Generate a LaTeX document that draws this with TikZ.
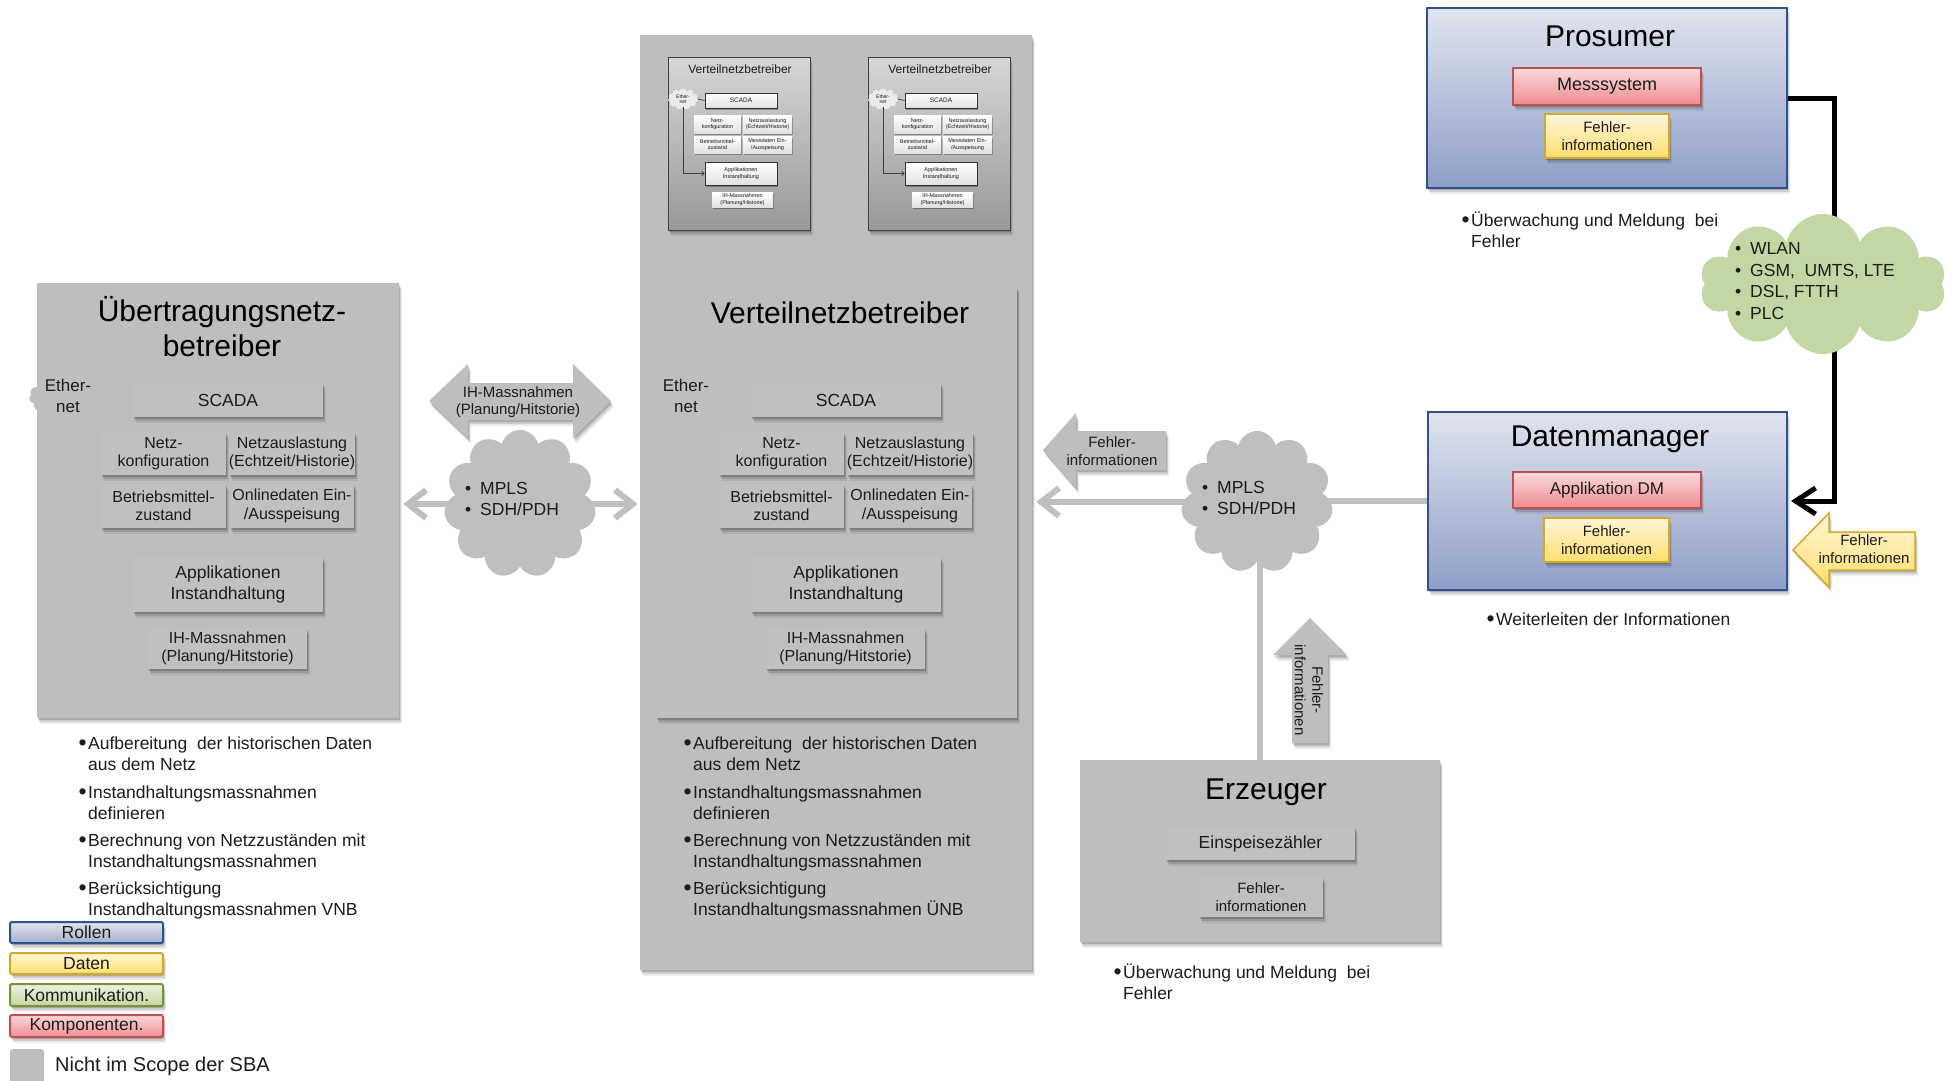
\documentclass[tikz,border=0pt]{standalone}
\usepackage{fontspec}
\setmainfont{Liberation Sans}
\usetikzlibrary{shapes.symbols,shadows,arrows.meta,calc}
\pgfdeclarelayer{paper}
\pgfdeclarelayer{links}
\pgfsetlayers{paper,links,main}

\definecolor{panel}{HTML}{BEBEBE}
\definecolor{boxgray}{HTML}{C0C0C0}
\definecolor{linkgray}{HTML}{BFBFBF}
\definecolor{txt}{HTML}{1C1C1C}
\definecolor{roleA}{HTML}{E0E4EE}
\definecolor{roleB}{HTML}{8E9EC8}
\definecolor{roleE}{HTML}{2F528F}
\definecolor{compA}{HTML}{FBDADC}
\definecolor{compB}{HTML}{EE8C91}
\definecolor{compE}{HTML}{C0504D}
\definecolor{dataA}{HTML}{FFF6DA}
\definecolor{dataB}{HTML}{FFDE6E}
\definecolor{dataE}{HTML}{D5A82A}
\definecolor{commA}{HTML}{EEF3E3}
\definecolor{commB}{HTML}{C3D69B}
\definecolor{commE}{HTML}{76933C}
\definecolor{cloudgreen}{HTML}{C3D7A4}

\newcommand\fsz[2]{\fontsize{#1}{#2}\selectfont}
\newcommand\bul{\llap{\raisebox{-1.4pt}{\fontsize{23}{23}\selectfont\textbullet}\hspace{1.5pt}}}
\newcommand\cbul{\makebox[15pt][l]{\textbullet}}
% box from its corners: name, x1, y1, x2, y2, style, text
\newcommand\rbox[7]{\node[#6,inner sep=0pt,minimum width={(#4-#2)*1pt},minimum height={(#5-#3)*1pt}] (#1) at ({(#2+#4)/2},{(#3+#5)/2}) {#7};}

\tikzset{
  softshadow/.style={
    drop shadow={shadow xshift=1pt,shadow yshift=-2pt,opacity=.17,fill=black},
    drop shadow={shadow xshift=2pt,shadow yshift=-4pt,opacity=.13,fill=black},
    drop shadow={shadow xshift=3pt,shadow yshift=-6pt,opacity=.07,fill=black}},
  tinyshadow/.style={drop shadow={shadow xshift=.8pt,shadow yshift=-1.5pt,opacity=.3,fill=black}},
  panelbox/.style={fill=panel,softshadow},
  graybox/.style={fill=boxgray,softshadow,align=center,font=\fsz{16}{18.5}},
  bigbox/.style={graybox,font=\fsz{17.5}{21}},
  titletext/.style={font=\fsz{30}{35},align=center,inner sep=0pt,text=black},
  ethtext/.style={font=\fsz{17}{21},align=center,inner sep=0pt},
  rolebox/.style={draw=roleE,line width=2pt,top color=roleA,bottom color=roleB,softshadow},
  compbox/.style={draw=compE,line width=2pt,top color=compA,bottom color=compB,softshadow,font=\fsz{18}{21}},
  databox/.style={draw=dataE,line width=2pt,top color=dataA,bottom color=dataB,softshadow,align=center,font=\fsz{15}{17.5}},
  bodytext/.style={font=\fsz{17.5}{21},anchor=base west,inner sep=0pt},
  arrowtext/.style={font=\fsz{15}{17.5},align=center,inner sep=0pt},
  cloudtext/.style={font=\fsz{17.5}{21.5},align=left,anchor=west,inner sep=0pt},
  netcloud/.style={cloud,cloud puffs=11,cloud ignores aspect,inner sep=0pt},
  glink/.style={draw=linkgray,line width=6pt},
  gtip/.style={-{Straight Barb[length=18pt,width=28pt]}},
  blklink/.style={draw=black,line width=5pt,-{Straight Barb[length=20pt,width=26pt]}},
  minipanel/.style={draw=black!75,line width=1pt,top color=black!16,bottom color=black!40,softshadow},
  miniwhite/.style={top color=white,bottom color=black!12,tinyshadow,align=center,font=\fsz{5.5}{6.5}},
  minidark/.style={miniwhite,draw=black!80,line width=.9pt,font=\fsz{6.5}{7.5}},
  legbox/.style={line width=2pt,rounded corners=2pt,softshadow,font=\fsz{17.5}{20}},
}

\begin{document}
\begin{tikzpicture}[x=1pt,y=-1pt,every node/.append style={text=txt}]
\useasboundingbox (0,0) rectangle (1952,1080);
\begin{pgfonlayer}{paper}
  \fill[white] (0,0) rectangle (1952,1080);
\end{pgfonlayer}

% ---------- Verteilnetzbetreiber column (outer panel) ----------
\rbox{vnbo}{640}{35}{1032}{970}{panelbox}{}

% two small copies of the VNB panel
\foreach \k/\dx in {a/0,b/200}{
  \begin{scope}[xshift=\dx pt]
    \rbox{mini\k}{668}{57}{810}{230}{minipanel}{}
    \node[font=\fsz{12}{14},inner sep=0pt] (mtitle\k) at (740,69) {Verteilnetzbetreiber};
    \node[netcloud,fill=black!8,minimum width=30pt,minimum height=21pt,font=\fsz{5}{5.5},align=center] (meth\k) at (683,99) {Ether-\\net};
    \rbox{mscada\k}{705}{93}{777}{108}{minidark}{SCADA}
    \rbox{mnetz\k}{694}{115}{741}{133}{miniwhite}{Netz-\\konfiguration}
    \rbox{mlast\k}{743}{115}{792}{133}{miniwhite}{Netzauslastung\\(Echtzeit/Historie)}
    \rbox{mbetr\k}{694}{136}{741}{153}{miniwhite}{Betriebsmittel-\\zustand}
    \rbox{mmess\k}{743}{136}{792}{153}{miniwhite}{Messdaten Ein-\\/Ausspeisung}
    \rbox{mapp\k}{705}{162}{777}{185}{minidark,font=\fsz{5.5}{6.5}}{Applikationen\\Instandhaltung}
    \rbox{mih\k}{712}{192}{773}{207}{miniwhite}{IH-Massnahmen\\(Planung/Historie)}
    \draw[black!75,line width=.8pt] (meth\k.east) -- (mscada\k.west);
    \draw[black!75,line width=.8pt,-{To[length=3pt,width=5pt]}] (meth\k.south) |- (mapp\k.west);
  \end{scope}
}

% ---------- Übertragungsnetzbetreiber and Verteilnetzbetreiber ----------
\rbox{unb}{37}{283}{399}{718}{panelbox}{}
\rbox{vnb}{656}{287}{1017}{718}{panelbox}{}
\node[titletext] (unbtitle) at (222,327) {Übertragungsnetz-\\betreiber};
\node[titletext] (vnbtitle) at (840,313) {Verteilnetzbetreiber};

\foreach \p/\dx in {un/0,vn/618}{
  \begin{scope}[xshift=\dx pt]
    \node[netcloud,fill=panel,minimum width=74pt,minimum height=42pt] (\p eth) at (66,397) {};
    \node[ethtext] (\p ethtxt) at (68,396) {Ether-\\net};
    \rbox{\p scada}{133}{383}{323}{417}{bigbox}{SCADA}
    \rbox{\p netz}{101}{432}{226}{475}{graybox}{Netz-\\konfiguration}
    \rbox{\p last}{230}{432}{354}{475}{graybox}{Netzauslastung\\(Echtzeit/Historie)}
    \rbox{\p betr}{101}{484}{226}{528}{graybox}{Betriebsmittel-\\zustand}
    \rbox{\p onl}{230}{484}{354}{528}{graybox}{Onlinedaten Ein-\\/Ausspeisung}
    \rbox{\p app}{133}{557}{323}{612}{bigbox}{Applikationen\\Instandhaltung}
    \rbox{\p ih}{148}{628}{307}{669}{graybox}{IH-Massnahmen\\(Planung/Hitstorie)}
  \end{scope}
}

% task lists below both operators
\foreach \p/\x/\last in {ul/88/VNB,vl/693/ÜNB}{
  \node[bodytext] (\p1) at (\x,749) {\bul Aufbereitung\ \ der historischen Daten};
  \node[bodytext] (\p2) at (\x,770) {aus dem Netz};
  \node[bodytext] (\p3) at (\x,798) {\bul Instandhaltungsmassnahmen};
  \node[bodytext] (\p4) at (\x,819) {definieren};
  \node[bodytext] (\p5) at (\x,846) {\bul Berechnung von Netzzuständen mit};
  \node[bodytext] (\p6) at (\x,867) {Instandhaltungsmassnahmen};
  \node[bodytext] (\p7) at (\x,894) {\bul Berücksichtigung};
  \node[bodytext] (\p8) at (\x,915) {Instandhaltungsmassnahmen \last};
}

% ---------- networks ----------
\node[netcloud,fill=linkgray,minimum width=152pt,minimum height=148pt] (c1) at (520,504) {};
\node[cloudtext] (c1txt) at (465,499) {\cbul MPLS\\\cbul SDH/PDH};
\node[netcloud,fill=linkgray,minimum width=152pt,minimum height=142pt] (c2) at (1257,502) {};
\node[cloudtext] (c2txt) at (1202,498) {\cbul MPLS\\\cbul SDH/PDH};
\node[netcloud,cloud puffs=10,fill=cloudgreen,minimum width=246pt,minimum height=140pt] (c3) at (1823,284) {};
\node[cloudtext] (c3txt) at (1735,281) {\cbul WLAN\\\cbul GSM,\ \ UMTS,\ LTE\\\cbul DSL, FTTH\\\cbul PLC};

% ---------- Prosumer ----------
\rbox{pros}{1427}{8}{1787}{188}{rolebox}{}
\node[titletext] (prostitle) at (1610,36) {Prosumer};
\rbox{prosmess}{1513}{68}{1701}{105}{compbox}{Messsystem}
\rbox{prosfi}{1545}{114}{1669}{158}{databox}{Fehler-\\informationen}
\node[bodytext] (prosb1) at (1471,226) {\bul Überwachung und Meldung\ \ bei};
\node[bodytext] (prosb2) at (1471,247) {Fehler};

% ---------- Datenmanager ----------
\rbox{dm}{1428}{412}{1787}{590}{rolebox}{}
\node[titletext] (dmtitle) at (1610,439) {Datenmanager};
\rbox{dmapp}{1513}{472}{1701}{508}{compbox,font=\fsz{17}{20}}{Applikation\ DM}
\rbox{dmfi}{1544}{518}{1669}{562}{databox}{Fehler-\\informationen}
\node[bodytext] (dmb1) at (1496,625) {\bul Weiterleiten der Informationen};

% ---------- Erzeuger ----------
\rbox{erz}{1080}{760}{1440}{942}{panelbox}{}
\node[titletext] (erztitle) at (1266,792) {Erzeuger};
\rbox{erzein}{1166}{827}{1355}{860}{bigbox}{Einspeisezähler}
\rbox{erzfi}{1199}{877}{1323}{917}{graybox,font=\fsz{15}{17.5}}{Fehler-\\informationen}
\node[bodytext] (erzb1) at (1123,978) {\bul Überwachung und Meldung\ \ bei};
\node[bodytext] (erzb2) at (1123,999) {Fehler};

% ---------- block arrows ----------
\fill[panelbox] (429,401) -- (468,364) -- (468,383) -- (573,383) -- (573,364) -- (611,401)
  -- (573,438) -- (573,420) -- (468,420) -- (468,438) -- cycle;
\node[arrowtext] (ihlabel) at (518,402) {IH-Massnahmen\\(Planung/Hitstorie)};

\fill[panelbox] (1043,450) -- (1076,413) -- (1076,431) -- (1166,431) -- (1166,470)
  -- (1076,470) -- (1076,488) -- cycle;
\node[arrowtext] (filabel) at (1112,451) {Fehler-\\informationen};

\fill[panelbox] (1310,618) -- (1347,655) -- (1328,655) -- (1328,743) -- (1292,743)
  -- (1292,655) -- (1273,655) -- cycle;
\node[arrowtext,rotate=-90] (uplabel) at (1309,690) {Fehler-\\informationen};

\draw[draw=dataE,line width=1.5pt,top color=dataA,bottom color=dataB,softshadow]
  (1793,550) -- (1829,513) -- (1829,532) -- (1915,532) -- (1915,570) -- (1829,570) -- (1829,587) -- cycle;
\node[arrowtext] (ylabel) at (1864,549) {Fehler-\\informationen};

% ---------- connectors (kept under the boxes and clouds) ----------
\begin{pgfonlayer}{links}
  \draw[glink] (dm.west) -- (dm.west -| c2.center);
  \draw[glink,gtip] (c2.center) -- ($(c2.center -| vnbo.east)+(4,0)$);
  \draw[glink] (erz.north) -- (erz.north |- c2.center);
  \draw[glink,gtip] (c1.center) -- ($(c1.center -| unb.east)+(4,0)$);
  \draw[glink,gtip] (c1.center) -- ($(c1.center -| vnbo.west)+(-2,0)$);
  \draw[blklink] (pros.east) -- ++(46,0) |- ($(dm.east)+(3,0)$);
\end{pgfonlayer}

% ---------- legend ----------
\rbox{lgrole}{10}{922}{163}{943}{legbox,draw=roleE,top color=roleA,bottom color=black!10!roleB!70!white}{Rollen}
\rbox{lgdata}{10}{953}{163}{974}{legbox,draw=dataE,top color=dataA,bottom color=dataB}{Daten}
\rbox{lgcomm}{10}{984}{163}{1006}{legbox,draw=commE,top color=commA,bottom color=commB}{Kommunikation.}
\rbox{lgcomp}{10}{1015}{163}{1037}{legbox,draw=compE,top color=compA,bottom color=compB}{Komponenten.}
\rbox{lgscope}{10}{1049}{44}{1090}{fill=panel,rounded corners=3pt}{}
\node[font=\fsz{20}{22},anchor=west,inner sep=0pt] (lgscopetxt) at (55,1066) {Nicht im Scope der SBA};
\end{tikzpicture}
\end{document}
